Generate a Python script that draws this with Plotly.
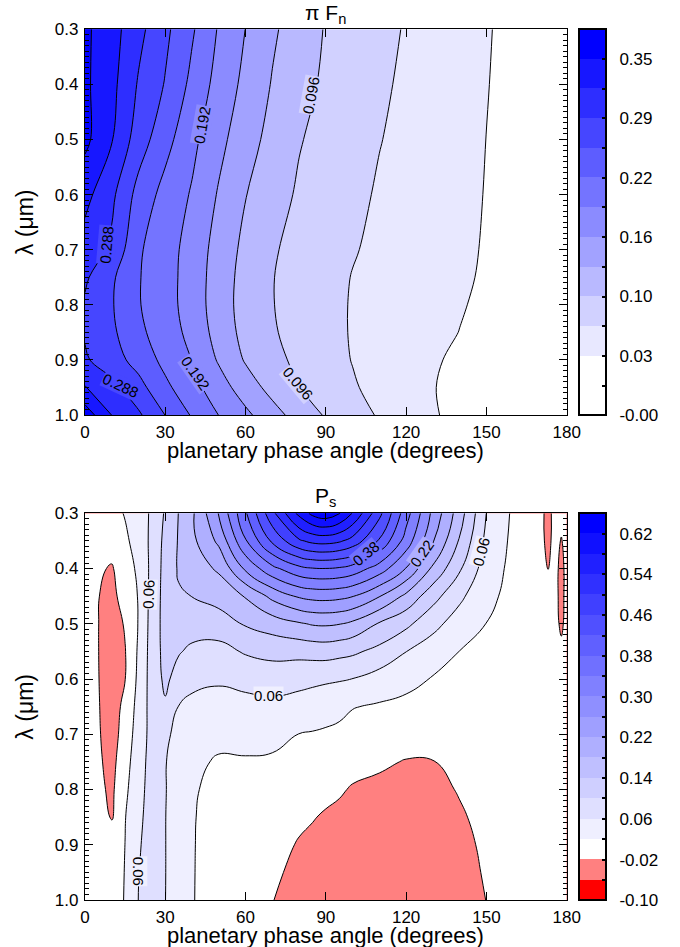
import plotly.graph_objects as go

# ---------------------------------------------------------------- data ----
# upper panel: normalised flux  pi*F_n(phase angle, wavelength)
phase_top = [0, 10, 20, 30, 40, 50, 60, 70, 80, 90, 100, 110, 120, 130, 140, 150, 160, 170, 180]
wavelength_top = [0.30, 0.40, 0.50, 0.60, 0.70, 0.75, 0.80, 0.85, 0.90, 0.95, 1.00]
flux_top = [
    [0.358, 0.333, 0.297, 0.263, 0.228, 0.189, 0.1595, 0.133, 0.112, 0.094, 0.083, 0.072, 0.062, 0.053, 0.043, 0.034, 0.025, 0.015, 0.004],
    [0.358, 0.329, 0.285, 0.254, 0.216, 0.180, 0.152, 0.126, 0.106, 0.091, 0.080, 0.069, 0.059, 0.051, 0.042, 0.033, 0.024, 0.014, 0.004],
    [0.360, 0.322, 0.272, 0.235, 0.200, 0.169, 0.141, 0.118, 0.098, 0.086, 0.076, 0.065, 0.057, 0.048, 0.040, 0.0318, 0.023, 0.013, 0.004],
    [0.330, 0.295, 0.245, 0.213, 0.189, 0.157, 0.129, 0.109, 0.092, 0.082, 0.071, 0.061, 0.054, 0.046, 0.0385, 0.031, 0.022, 0.012, 0.003],
    [0.306, 0.282, 0.228, 0.205, 0.180, 0.147, 0.120, 0.099, 0.087, 0.076, 0.066, 0.058, 0.051, 0.044, 0.037, 0.030, 0.021, 0.012, 0.003],
    [0.293, 0.261, 0.226, 0.204, 0.1785, 0.144, 0.117, 0.097, 0.085, 0.074, 0.063, 0.056, 0.0495, 0.043, 0.036, 0.029, 0.020, 0.011, 0.003],
    [0.284, 0.2585, 0.226, 0.204, 0.1785, 0.143, 0.116, 0.097, 0.085, 0.073, 0.062, 0.055, 0.048, 0.041, 0.034, 0.027, 0.019, 0.010, 0.003],
    [0.285, 0.262, 0.231, 0.2075, 0.183, 0.147, 0.118, 0.099, 0.0855, 0.073, 0.062, 0.054, 0.047, 0.039, 0.0316, 0.024, 0.016, 0.009, 0.002],
    [0.292, 0.270, 0.244, 0.215, 0.1915, 0.1565, 0.125, 0.105, 0.089, 0.0755, 0.063, 0.0535, 0.044, 0.035, 0.027, 0.020, 0.013, 0.007, 0.002],
    [0.322, 0.298, 0.267, 0.231, 0.203, 0.1745, 0.144, 0.1175, 0.0966, 0.082, 0.067, 0.055, 0.044, 0.033, 0.025, 0.018, 0.012, 0.006, 0.002],
    [0.370, 0.3195, 0.293, 0.2555, 0.221, 0.1915, 0.167, 0.140, 0.115, 0.093, 0.077, 0.061, 0.047, 0.034, 0.026, 0.019, 0.012, 0.006, 0.002],
]

# lower panel: degree of polarisation P_s(phase angle, wavelength)
phase_bot = [0, 5, 10, 15, 20, 25, 30, 35, 40, 50, 60, 70, 80, 85, 90, 95, 100, 110, 120, 130, 140, 150,
             160, 170, 173, 175.5, 178, 180]
wavelength_bot = [0.30, 0.35, 0.40, 0.45, 0.50, 0.55, 0.60, 0.65, 0.70, 0.75, 0.80, 0.85, 0.90, 0.95, 1.00]
pol_bot = [
    [0.006, 0.003, 0.005, 0.0228, 0.0428, 0.0656, 0.105, 0.141, 0.173, 0.262, 0.375, 0.489, 0.593, 0.63, 0.645, 0.623, 0.578, 0.471, 0.357, 0.250, 0.158, 0.0595, 0.014, 0.006, -0.045, 0.005, 0.004, 0.003],
    [0.004, 0.0, 0.0, 0.012, 0.0382, 0.0684, 0.1116, 0.143, 0.170, 0.2288, 0.3367, 0.4277, 0.4937, 0.5102, 0.514, 0.5056, 0.485, 0.4155, 0.323, 0.2235, 0.136, 0.05, 0.012, 0.005, -0.040, 0.004, -0.024, 0.003],
    [0.002, -0.014, -0.024, 0.0054, 0.026, 0.0711, 0.114, 0.144, 0.160, 0.1857, 0.2674, 0.3292, 0.3689, 0.3778, 0.3795, 0.3752, 0.3638, 0.3212, 0.2582, 0.1725, 0.105, 0.04, 0.010, 0.004, -0.022, 0.003, -0.040, 0.002],
    [0.0, -0.019, -0.032, -0.0018, 0.022, 0.074, 0.115, 0.136, 0.1405, 0.1559, 0.1827, 0.2309, 0.2655, 0.2723, 0.274, 0.2704, 0.2618, 0.2221, 0.1705, 0.1147, 0.068, 0.03, 0.008, 0.003, -0.005, 0.002, -0.040, 0.002],
    [-0.002, -0.0195, -0.040, -0.0162, 0.022, 0.076, 0.115, 0.120, 0.116, 0.1205, 0.1438, 0.1581, 0.1756, 0.1833, 0.185, 0.1817, 0.1713, 0.1361, 0.1094, 0.0713, 0.042, 0.0195, 0.006, 0.002, 0.0, 0.002, -0.032, 0.001],
    [-0.003, -0.0195, -0.041, -0.0215, 0.0256, 0.077, 0.113, 0.103, 0.0929, 0.0873, 0.104, 0.1122, 0.1127, 0.1151, 0.117, 0.1122, 0.1072, 0.0886, 0.0605, 0.0405, 0.0195, 0.016, 0.004, 0.002, 0.0, 0.001, -0.005, 0.001],
    [-0.003, -0.019, -0.040, -0.0205, 0.029, 0.077, 0.108, 0.085, 0.0707, 0.0645, 0.071, 0.0767, 0.0715, 0.0687, 0.065, 0.0629, 0.0595, 0.0436, 0.0314, 0.0175, 0.0126, 0.012, 0.003, 0.001, 0.0, 0.001, 0.0, 0.0],
    [-0.003, -0.018, -0.038, -0.0102, 0.034, 0.075, 0.095, 0.059, 0.050, 0.0468, 0.0483, 0.0504, 0.045, 0.040, 0.038, 0.032, 0.0216, 0.0157, 0.0104, 0.005, 0.0052, 0.008, 0.002, 0.001, 0.0, 0.0, 0.0, 0.0],
    [-0.003, -0.017, -0.035, -0.005, 0.040, 0.072, 0.070, 0.045, 0.038, 0.0302, 0.0306, 0.0287, 0.0195, 0.0175, 0.014, 0.010, 0.006, 0.001, -0.0056, -0.0075, -0.002, 0.004, 0.001, 0.0, 0.0, 0.0, 0.0, 0.0],
    [-0.002, -0.015, -0.031, 0.0033, 0.046, 0.072, 0.062, 0.040, 0.028, 0.016, 0.017, 0.0157, 0.0092, 0.006, 0.0027, -0.0015, -0.0085, -0.0153, -0.0216, -0.021, -0.0096, 0.0, 0.0, 0.0, 0.0, 0.0, 0.0, 0.0],
    [-0.002, -0.012, -0.027, 0.011, 0.0508, 0.071, 0.062, 0.037, 0.023, 0.012, 0.012, 0.0086, -0.0016, -0.006, -0.0107, -0.016, -0.023, -0.027, -0.033, -0.032, -0.017, -0.004, -0.002, -0.001, -0.001, -0.001, -0.001, -0.001],
    [-0.001, -0.008, -0.022, 0.0185, 0.0543, 0.071, 0.061, 0.035, 0.022, 0.009, 0.008, 0.0014, -0.0124, -0.018, -0.024, -0.028, -0.032, -0.035, -0.040, -0.039, -0.025, -0.008, -0.004, -0.002, -0.002, -0.002, -0.002, -0.002],
    [0.0, -0.004, -0.012, 0.0205, 0.0571, 0.072, 0.061, 0.034, 0.022, 0.006, 0.004, -0.0057, -0.023, -0.028, -0.032, -0.035, -0.038, -0.040, -0.044, -0.043, -0.032, -0.012, -0.006, -0.003, -0.003, -0.003, -0.003, -0.003],
    [0.0, -0.002, -0.006, 0.022, 0.0593, 0.072, 0.061, 0.033, 0.022, 0.004, 0.0, -0.0129, -0.030, -0.034, -0.037, -0.039, -0.041, -0.043, -0.046, -0.045, -0.035, -0.016, -0.008, -0.004, -0.004, -0.004, -0.004, -0.004],
    [0.0, -0.001, -0.003, 0.023, 0.0607, 0.072, 0.0605, 0.033, 0.022, 0.002, -0.004, -0.019, -0.035, -0.038, -0.040, -0.041, -0.042, -0.044, -0.047, -0.046, -0.037, -0.0195, -0.010, -0.005, -0.005, -0.005, -0.005, -0.005],
]

# contour levels
top_levels = dict(start=0.0, end=0.352, size=0.032)
bot_levels = dict(start=-0.06, end=0.62, size=0.04)

# colour-bar extents and tick labels
top_cb_range = (-0.032, 0.384)
bot_cb_range = (-0.10, 0.66)
top_cb_vals = [-0.032, 0.032, 0.096, 0.160, 0.224, 0.288, 0.352]
top_cb_text = ["-0.00", "0.03", "0.10", "0.16", "0.22", "0.29", "0.35"]
bot_cb_vals = [-0.10, -0.02, 0.06, 0.14, 0.22, 0.30, 0.38, 0.46, 0.54, 0.62]
bot_cb_text = ["-0.10", "-0.02", "0.06", "0.14", "0.22", "0.30", "0.38", "0.46", "0.54", "0.62"]

# in-line contour labels: (phase, wavelength, text, angle)
top_labels = [
    (84.6, 0.419, "0.096", -80), (43.6, 0.474, "0.192", -80), (8.0, 0.69, "0.288", -85),
    (13.5, 0.946, "0.288", 25), (41.5, 0.924, "0.192", 55), (79.6, 0.943, "0.096", 50),
]
bot_labels = [
    (23.7, 0.447, "0.06", -88), (20.0, 0.948, "0.06", 90), (68.5, 0.630, "0.06", 0),
    (104.9, 0.372, "0.38", -40), (125.8, 0.372, "0.22", -55), (148.2, 0.37, "0.06", -75),
]

# ------------------------------------------------------------ styling ----
FONT = "Liberation Sans, Arial, Helvetica, sans-serif"
W, H = 680, 947
X0, X1 = 85, 566.7                 # plot area, pixels
TOP_Y0, TOP_Y1 = 29.3, 415.0
BOT_Y0, BOT_Y1 = 513.3, 900.0
CB_X, CB_W = 579.3, 26.7


def fx(px):
    return px / W


def fy(py):
    return 1 - py / H


def band_colors_top():
    # 13 bands: two white bands, then white -> pure blue
    cols = ["rgb(255,255,255)", "rgb(255,255,255)"]
    for k in range(2, 13):
        v = round(255 * (1 - (k - 1) / 11))
        cols.append(f"rgb({v},{v},255)")
    return cols


def band_colors_bot():
    # 19 bands: red, light red, white, then white -> pure blue
    cols = ["rgb(255,0,0)", "rgb(255,128,128)", "rgb(255,255,255)"]
    for k in range(3, 19):
        v = round(255 * (1 - (k - 2) / 16))
        cols.append(f"rgb({v},{v},255)")
    return cols


top_cols = band_colors_top()
bot_cols = band_colors_bot()
# contour fills sample the scale at the band centres
top_scale = [[k / (len(top_cols) - 1), c] for k, c in enumerate(top_cols)]
bot_scale = [[k / (len(bot_cols) - 1), c] for k, c in enumerate(bot_cols)]


def step_scale(cols):
    n = len(cols)
    out = []
    for i, c in enumerate(cols):
        out.append([i / n, c])
        out.append([(i + 1) / n, c])
    return out


def cb_ticks(lo, hi, step, labelled, texts):
    vals, txt = [], []
    n = round((hi - lo) / step)
    for i in range(n + 1):
        v = round(lo + i * step, 4)
        vals.append(v)
        hit = [t for lv, t in zip(labelled, texts) if abs(lv - v) < 1e-6]
        txt.append("\u2002" + hit[0] if hit else "")
    return vals, txt


def colorbar(y0, y1, vals, txt):
    return dict(
        x=fx(CB_X), xanchor="left", y=fy(y0), yanchor="top",
        len=(y1 - y0) / H, lenmode="fraction",
        thickness=CB_W, thicknessmode="pixels", xpad=0, ypad=0,
        outlinewidth=2, outlinecolor="black",
        tickmode="array", tickvals=vals, ticktext=txt,
        ticks="inside", ticklen=5, tickwidth=1.5, tickcolor="black",
        tickfont=dict(family=FONT, size=17, color="black"),
    )


fig = go.Figure()
fig.add_trace(go.Contour(
    x=phase_top, y=wavelength_top, z=flux_top, autocontour=False,
    contours=dict(coloring="fill", showlines=True, **top_levels),
    line=dict(color="black", width=1, smoothing=1.0),
    colorscale=top_scale, showscale=False,
    hoverinfo="skip", xaxis="x", yaxis="y",
))
fig.add_trace(go.Contour(
    x=phase_bot, y=wavelength_bot, z=pol_bot, autocontour=False,
    contours=dict(coloring="fill", showlines=True, **bot_levels),
    line=dict(color="black", width=1, smoothing=1.3),
    colorscale=bot_scale, showscale=False,
    hoverinfo="skip", xaxis="x2", yaxis="y2",
))

# banded colour bars carried by marker-less helper traces
for (lo, hi), cols, labelled, texts, (y0, y1), xa, ya, step in [
    (top_cb_range, top_cols, top_cb_vals, top_cb_text, (TOP_Y0, TOP_Y1), "x", "y", top_levels["size"]),
    (bot_cb_range, bot_cols, bot_cb_vals, bot_cb_text, (BOT_Y0, BOT_Y1), "x2", "y2", bot_levels["size"]),
]:
    vals, txt = cb_ticks(lo, hi, step, labelled, texts)
    fig.add_trace(go.Scatter(
        x=[-1000], y=[0.5], mode="markers", xaxis=xa, yaxis=ya, hoverinfo="skip",
        marker=dict(size=1, opacity=0, color=[lo], cmin=lo, cmax=hi,
                    colorscale=step_scale(cols), showscale=True,
                    colorbar=colorbar(y0, y1, vals, txt)),
    ))

tick_font = dict(family=FONT, size=17, color="black")


def xaxis(anchor):
    return dict(
        domain=[fx(X0), fx(X1)], anchor=anchor, range=[0, 180],
        tickmode="linear", tick0=0, dtick=30,
        ticks="inside", ticklen=8, tickwidth=1, tickcolor="black",
        showline=True, linecolor="black", linewidth=1.2, mirror="ticks",
        showgrid=False, zeroline=False, tickfont=tick_font, ticklabelstandoff=1,
    )


def yaxis(anchor, y0, y1):
    return dict(
        domain=[fy(y1), fy(y0)], anchor=anchor, range=[1.0, 0.3],
        tickmode="linear", tick0=0.3, dtick=0.1, tickformat=".1f",
        ticks="inside", ticklen=8, tickwidth=1, tickcolor="black",
        minor=dict(tickmode="linear", tick0=0.3, dtick=0.01, ticks="inside",
                   ticklen=4, tickwidth=1, tickcolor="black"),
        showline=True, linecolor="black", linewidth=1.2, mirror="ticks",
        showgrid=False, zeroline=False, tickfont=tick_font, ticklabelstandoff=2,
    )


annotations = []


def text(px, py, s, size, angle=0):
    annotations.append(dict(
        x=fx(px), y=fy(py), xref="paper", yref="paper", text=s, showarrow=False,
        textangle=angle, font=dict(family=FONT, size=size, color="black"),
        xanchor="center", yanchor="middle",
    ))


xc = (X0 + X1) / 2
text(xc, 14, "\u03c0 F<sub>n</sub>", 21)
text(xc, 497, "P<sub>s</sub>", 21)
text(xc, 450.5, "planetary phase angle (degrees)", 22)
text(xc, 935.5, "planetary phase angle (degrees)", 22)
text(25, (TOP_Y0 + TOP_Y1) / 2, "\u03bb (\u03bcm)", 23, -90)
text(25, (BOT_Y0 + BOT_Y1) / 2, "\u03bb (\u03bcm)", 23, -90)


def level_color(cols, start, size, level):
    k = int(round((level - start) / size))   # band just below the level
    return cols[k]


for ph, lam, s, ang in top_labels:
    annotations.append(dict(
        x=ph, y=lam, xref="x", yref="y", text=s, showarrow=False, textangle=ang,
        font=dict(family=FONT, size=15, color="black"),
        bgcolor=level_color(top_cols, top_levels["start"], top_levels["size"], float(s)),
        borderpad=0,
    ))
for ph, lam, s, ang in bot_labels:
    annotations.append(dict(
        x=ph, y=lam, xref="x2", yref="y2", text=s, showarrow=False, textangle=ang,
        font=dict(family=FONT, size=15, color="black"),
        bgcolor=level_color(bot_cols, bot_levels["start"], bot_levels["size"], float(s)),
        borderpad=0,
    ))

fig.update_layout(
    width=W, height=H, margin=dict(l=0, r=0, t=0, b=0, autoexpand=False),
    paper_bgcolor="white", plot_bgcolor="white", showlegend=False,
    xaxis=xaxis("y"), yaxis=yaxis("x", TOP_Y0, TOP_Y1),
    xaxis2=xaxis("y2"), yaxis2=yaxis("x2", BOT_Y0, BOT_Y1),
    annotations=annotations,
)

fig.write_html("out.html")
